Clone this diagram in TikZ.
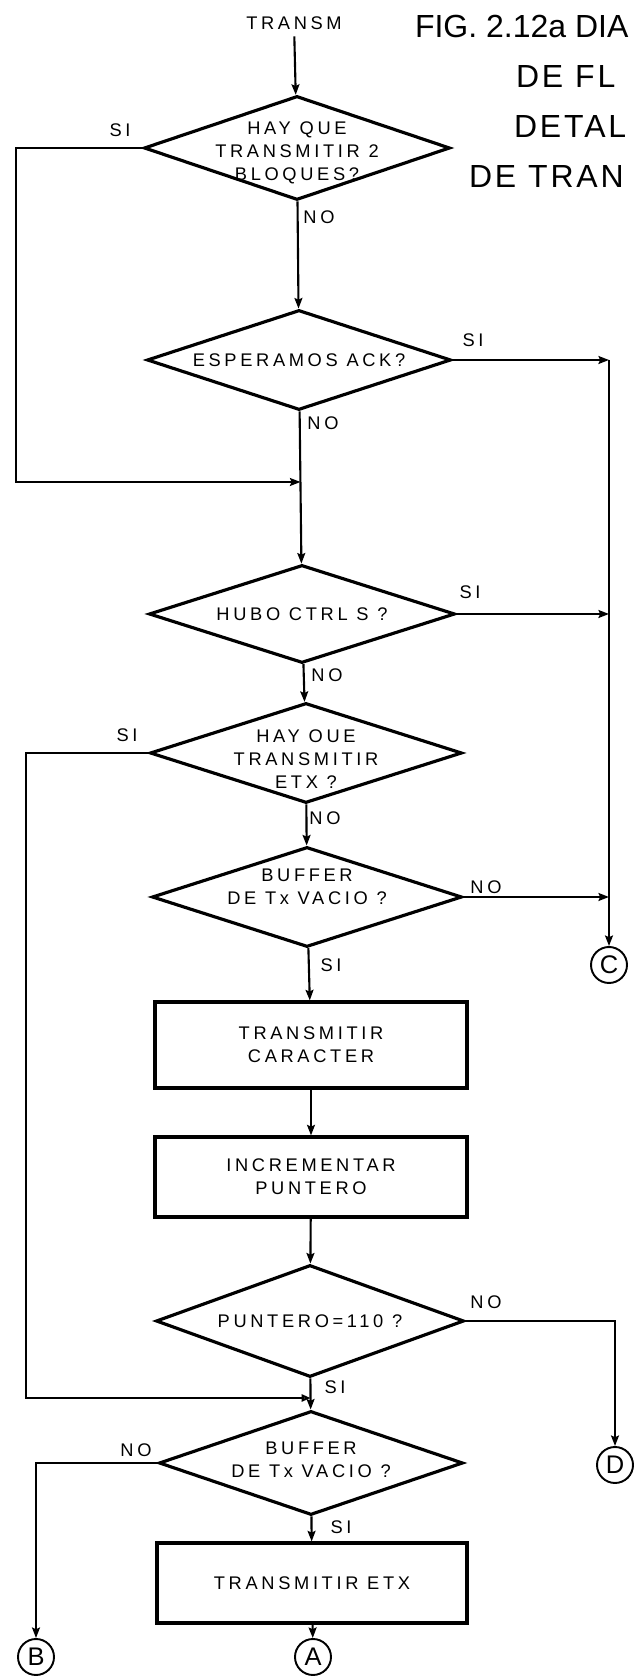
\documentclass[tikz,border=0pt]{standalone}
\usepackage{fontspec}
\setmainfont{Liberation Sans}
\newfontfamily\stencil[LetterSpace=20]{Liberation Sans}
\newfontfamily\stenciltitle[LetterSpace=9]{Liberation Sans}
\usetikzlibrary{arrows.meta,shapes.geometric}
\newcommand{\ttlfont}{\fontsize{18.2}{20}\selectfont}
\newcommand{\lblfont}{\stencil\fontsize{10.4}{13}\selectfont}

\begin{document}
\begin{tikzpicture}[
  font=\lblfont,
  line width=1.2pt,
  >={Stealth[length=6pt,width=4.5pt,inset=1pt]},
  dec/.style={diamond, draw, line width=1.8pt, inner sep=0pt},
  proc/.style={draw, line width=1.8pt, minimum width=6.24cm, align=center},
  endc/.style={circle, draw, line width=1.1pt, minimum size=0.72cm, inner sep=0pt,
    font=\stencil\fontsize{14.5}{16}\selectfont},
  lbl/.style={align=center, inner sep=0pt},
  tag/.style={inner sep=1pt},
  ttl/.style={anchor=west, inner sep=0pt}]

\useasboundingbox (0,0) rectangle (12.66,33.56);

% ===== titulo =====
\node[ttl, font=\ttlfont] (t1) at (8.28,33.02) {FIG. 2.12a DIA};
\node[ttl, font=\stenciltitle\ttlfont] (t2) at (10.30,32.02) {DE FL};
\node[ttl, font=\stenciltitle\ttlfont] (t3) at (10.26,31.02) {DETAL};
\node[ttl, font=\stenciltitle\ttlfont] (t4) at (9.36,30.02) {DE TRAN};

% ===== columna central =====
\node (transm) at (5.88,33.10) {TRANSM};
\node[dec, minimum width=6.12cm, minimum height=2.08cm,
  label={[lbl,yshift=-0.1cm]center:{HAY QUE\\TRANSMITIR 2\\BLOQUES?}}] (d1) at (5.94,30.60) {};
\node[dec, minimum width=6.08cm, minimum height=2.00cm,
  label={[lbl]center:{ESPERAMOS ACK?}}] (d2) at (5.98,26.36) {};
\node[dec, minimum width=6.12cm, minimum height=1.96cm,
  label={[lbl]center:{HUBO CTRL S ?}}] (d3) at (6.04,21.28) {};
\node[dec, minimum width=6.24cm, minimum height=2.00cm,
  label={[lbl,yshift=-0.12cm]center:{HAY OUE\\TRANSMITIR\\ETX ?}}] (d4) at (6.12,18.50) {};
\node[dec, minimum width=6.20cm, minimum height=2.00cm,
  label={[lbl,yshift=0.2cm]center:{BUFFER\\DE Tx VACIO ?}}] (d5) at (6.14,15.62) {};
\node[proc, minimum height=1.72cm] (box1) at (6.22,12.66) {TRANSMITIR\\CARACTER};
\node[proc, minimum height=1.60cm] (box2) at (6.22,10.02) {INCREMENTAR\\PUNTERO};
\node[dec, minimum width=6.16cm, minimum height=2.24cm,
  label={[lbl]center:{PUNTERO=110 ?}}] (d6) at (6.20,7.14) {};
\node[dec, minimum width=6.08cm, minimum height=2.08cm,
  label={[lbl,yshift=0.06cm]center:{BUFFER\\DE Tx VACIO ?}}] (d7) at (6.22,4.30) {};
\node[proc, minimum width=6.20cm, minimum height=1.60cm] (box3) at (6.24,1.90) {TRANSMITIR ETX};

% ===== conectores =====
\node[endc] (A) at (6.26,0.42) {A};
\node[endc] (B) at (0.72,0.42) {B};
\node[endc] (C) at (12.18,14.26) {C};
\node[endc] (D) at (12.30,4.26) {D};

% ===== SI / NO =====
\node[tag] (si1) at (2.40,30.96) {SI};
\node[tag] (no1) at (6.38,29.22) {NO};
\node[tag] (si2) at (9.46,26.76) {SI};
\node[tag] (no2) at (6.46,25.10) {NO};
\node[tag] (si3) at (9.40,21.72) {SI};
\node[tag] (no3) at (6.54,20.06) {NO};
\node[tag] (si4) at (2.54,18.86) {SI};
\node[tag] (no4) at (6.50,17.20) {NO};
\node[tag] (no5) at (9.72,15.82) {NO};
\node[tag] (si5) at (6.62,14.26) {SI};
\node[tag] (no6) at (9.72,7.52) {NO};
\node[tag] (si6) at (6.70,5.82) {SI};
\node[tag] (no7) at (2.72,4.56) {NO};
\node[tag] (si7) at (6.82,3.02) {SI};

% ===== puntos de union =====
\coordinate (j1) at (6.01,23.92);
\coordinate (j2) at (6.21,5.60);
\coordinate (l1) at (0.32,23.92);
\coordinate (l2) at (0.52,5.60);
\coordinate (rt) at (12.18,26.36);

% ===== flechas =====
\draw[->] (transm) -- (d1);
\draw[->] (d1) -- (d2);
\draw[->] (d2) -- (d3);
\draw[->] (d3) -- (d4);
\draw[->] (d4) -- (d5);
\draw[->] (d5) -- (box1);
\draw[->] (box1) -- (box2);
\draw[->] (box2) -- (d6);
\draw[->] (d6) -- (d7);
\draw[->] (d7) -- (box3);
\draw[->] (box3) -- (A);
% ramas izquierda
\draw[->] (d1.west) -| (l1) -- (j1);
\draw[-{Triangle[open,length=5pt,width=4pt]}] (d4.west) -| (l2) -- (j2);
\draw[->] (d7.west) -| (B.north);
% ramas derecha
\draw[->] (d2.east) -- (rt);
\draw[->] (rt) -- (C.north);
\draw[->] (d3.east) -- (d3.east -| rt);
\draw[->] (d5.east) -- (d5.east -| rt);
\draw[->] (d6.east) -| (D.north);

\end{tikzpicture}
\end{document}
